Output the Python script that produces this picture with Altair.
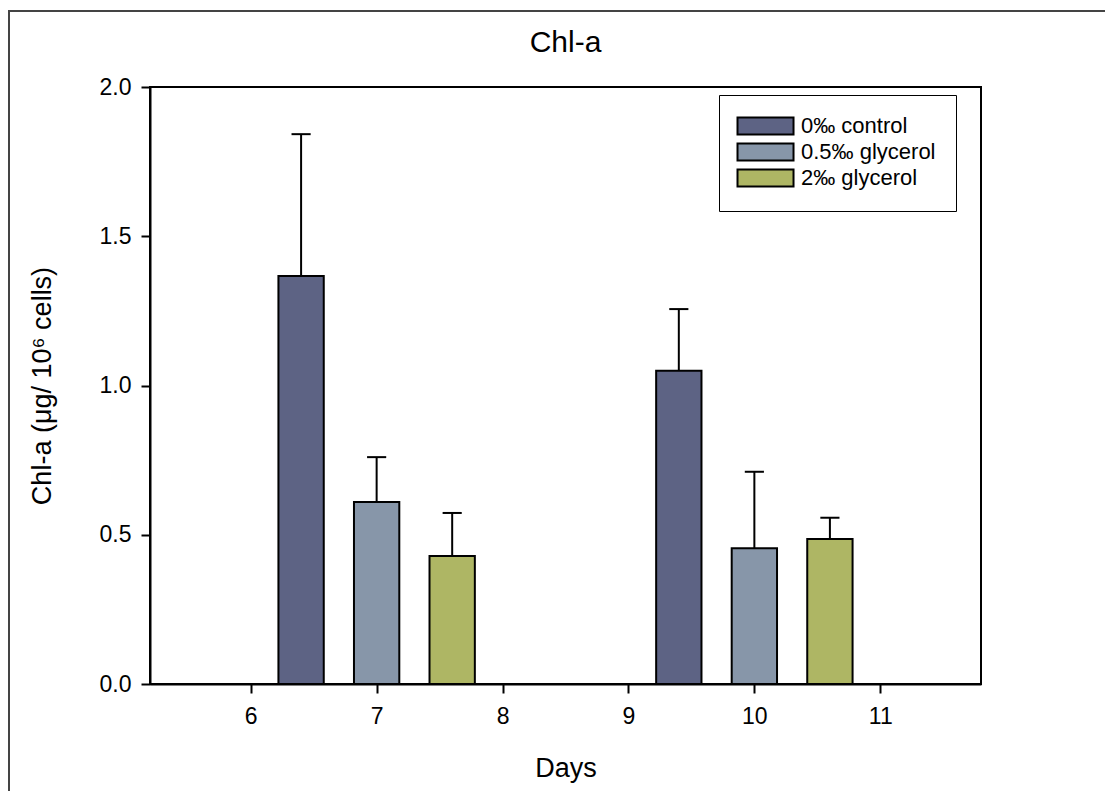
import altair as alt
import pandas as pd

# Chlorophyll-a per 10^6 cells, mean and standard deviation per treatment and day
days = [7, 7, 7, 10, 10, 10]
treatments = ["0‰ control", "0.5‰ glycerol", "2‰ glycerol"] * 2
chl_mean = [1.367, 0.610, 0.429, 1.049, 0.455, 0.486]
chl_sd = [0.475, 0.150, 0.144, 0.207, 0.256, 0.071]

treatment_order = ["0‰ control", "0.5‰ glycerol", "2‰ glycerol"]
treatment_colors = ["#5d6384", "#8796a9", "#aeb664"]
x_ticks = [6, 7, 8, 9, 10, 11]
y_ticks = [0.0, 0.5, 1.0, 1.5, 2.0]

# bars of a day are spread around the day value
group_shift = dict(zip(treatment_order, [-0.6, 0.0, 0.6]))
half_bar = 0.18
half_cap = 0.076

df = pd.DataFrame({"day": days, "treatment": treatments, "mean": chl_mean, "sd": chl_sd})
df["center"] = df["day"] + df["treatment"].map(group_shift)
df["left"] = df["center"] - half_bar
df["right"] = df["center"] + half_bar
df["top"] = df["mean"] + df["sd"]
df["cap_l"] = df["center"] - half_cap
df["cap_r"] = df["center"] + half_cap

FONT = "Liberation Sans"

x_scale = alt.Scale(domain=[5.2, 11.8], nice=False, zero=False)
y_scale = alt.Scale(domain=[0, 2], nice=False)

x_axis = alt.Axis(values=x_ticks, format="d", title="Days", labelPadding=12,
                  titlePadding=27)
y_axis = alt.Axis(values=y_ticks, format=".1f", title="Chl-a (μg/ 10⁶ cells)",
                  labelPadding=10, titlePadding=43)

base = alt.Chart(df)

# thin grey border around the whole figure
frame = alt.Chart(pd.DataFrame({"k": [0]})).mark_rect(
    filled=False, stroke="#444444", strokeWidth=2
).encode(
    x=alt.value(-141), x2=alt.value(1400), y=alt.value(-76), y2=alt.value(1200)
)

bars = base.mark_bar(stroke="black", strokeWidth=2).encode(
    x=alt.X("left:Q", scale=x_scale, axis=x_axis),
    x2="right:Q",
    y=alt.Y("mean:Q", scale=y_scale, axis=y_axis),
    y2=alt.Y2(datum=0),
    color=alt.Color(
        "treatment:N",
        scale=alt.Scale(domain=treatment_order, range=treatment_colors),
        legend=alt.Legend(title=None, orient="none", legendX=569, legendY=8),
    ),
)

stems = base.mark_rule(color="black", strokeWidth=2).encode(
    x=alt.X("center:Q", scale=x_scale),
    y=alt.Y("mean:Q", scale=y_scale),
    y2="top:Q",
)

caps = base.mark_rule(color="black", strokeWidth=2).encode(
    x=alt.X("cap_l:Q", scale=x_scale),
    x2="cap_r:Q",
    y=alt.Y("top:Q", scale=y_scale),
)

chart = (
    alt.layer(frame, bars, stems, caps)
    .properties(
        width=831,
        height=597,
        title="Chl-a",
        autosize=alt.AutoSizeParams(type="none"),
        padding={"left": 150, "top": 87, "right": 124, "bottom": 107},
        background="white",
    )
    .configure_view(stroke="black", strokeWidth=2)
    .configure_axis(
        grid=False,
        domainColor="black",
        domainWidth=2,
        tickColor="black",
        tickWidth=2,
        tickSize=9,
        labelFont=FONT,
        labelFontSize=23,
        labelColor="black",
        titleFont=FONT,
        titleFontSize=27,
        titleFontWeight="normal",
        titleColor="black",
    )
    .configure_legend(
        strokeColor="black",
        padding=20,
        symbolType="M-1.47,-1H5.12V1H-1.47Z",
        symbolSize=289,
        symbolStrokeColor="black",
        symbolStrokeWidth=2,
        symbolOpacity=1,
        labelOffset=40,
        labelFont=FONT,
        labelFontSize=22,
        labelColor="black",
        rowPadding=0,
    )
    .configure_title(
        font=FONT,
        fontSize=30,
        fontWeight="normal",
        color="black",
        anchor="middle",
        offset=-48,
    )
)

chart.save("out.html", embed_options={"renderer": "svg", "actions": False})
